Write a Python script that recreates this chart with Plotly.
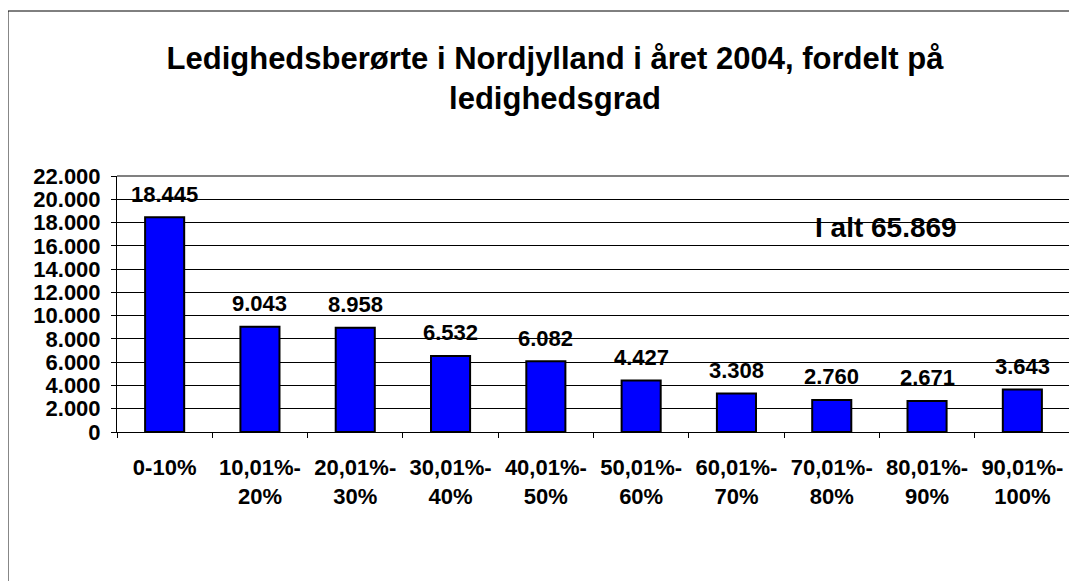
import plotly.graph_objects as go

categories = ["0-10%", "10,01%-<br>20%", "20,01%-<br>30%", "30,01%-<br>40%", "40,01%-<br>50%",
              "50,01%-<br>60%", "60,01%-<br>70%", "70,01%-<br>80%", "80,01%-<br>90%", "90,01%-<br>100%"]
values = [18445, 9043, 8958, 6532, 6082, 4427, 3308, 2760, 2671, 3643]
y_ticks = [0, 2000, 4000, 6000, 8000, 10000, 12000, 14000, 16000, 18000, 20000, 22000]
total_label = "I alt 65.869"
title_text = "Ledighedsberørte i Nordjylland i året 2004, fordelt på<br>ledighedsgrad"


def dk(n):
    return f"{n:,}".replace(",", ".")


FONT = "Liberation Sans, Arial, sans-serif"
W, H = 1069, 573  # page body has an 8px margin

fig = go.Figure()
fig.add_trace(go.Bar(
    x=categories, y=values, width=0.41,
    marker=dict(color="#0000ff", line=dict(color="black", width=2)),
    hoverinfo="skip",
))

for c, v in zip(categories, values):
    fig.add_annotation(x=c, y=v, text=dk(v), showarrow=False, yanchor="middle", yshift=23,
                       font=dict(family=FONT, size=22, color="black", weight="bold"))

fig.add_annotation(x=0.807, y=0.8, xref="paper", yref="paper", text=total_label, showarrow=False,
                   xanchor="center", yanchor="middle",
                   font=dict(family=FONT, size=28, color="black", weight="bold"))

# outer chart border (left and top edges visible)
fig.add_shape(type="line", xref="paper", yref="paper", x0=-0.1144, x1=-0.1144, y0=-1.0, y1=1.6445,
              line=dict(color="black", width=1), layer="below")
fig.add_shape(type="line", xref="paper", yref="paper", x0=-0.1144, x1=1.2, y0=1.6445, y1=1.6445,
              line=dict(color="black", width=1), layer="below")
# plot area grey border top/right
fig.add_shape(type="line", xref="paper", yref="paper", x0=0, x1=1, y0=1, y1=1,
              line=dict(color="#808080", width=2))
fig.add_shape(type="line", xref="paper", yref="paper", x0=1, x1=1, y0=0, y1=1,
              line=dict(color="#808080", width=2))

fig.update_layout(
    width=W, height=H,
    margin=dict(l=109, r=7, t=168, b=149, autoexpand=False),
    paper_bgcolor="white", plot_bgcolor="white",
    showlegend=False,
    title=dict(text=title_text, x=547 / W, xanchor="center", y=1 - 61 / H, yanchor="middle",
               yref="container", automargin=False,
               font=dict(family=FONT, size=31, color="black", weight="bold")),
    bargap=0.59,
)
fig.update_xaxes(
    type="category", showgrid=False, showline=True, linecolor="black", linewidth=1,
    ticks="outside", tickson="boundaries", ticklen=5, tickcolor="black",
    ticklabelstandoff=16, automargin=False,
    tickfont=dict(family=FONT, size=22, color="black", weight="bold"),
)
fig.update_yaxes(
    range=[0, 22000], tickvals=y_ticks, ticktext=[dk(t) for t in y_ticks],
    showgrid=True, gridcolor="black", gridwidth=1,
    showline=True, linecolor="black", linewidth=1,
    ticks="outside", ticklen=5, tickcolor="black", ticklabelstandoff=6, automargin=False,
    tickfont=dict(family=FONT, size=22, color="black", weight="bold"),
    zeroline=False,
)

fig.write_html("out.html")
